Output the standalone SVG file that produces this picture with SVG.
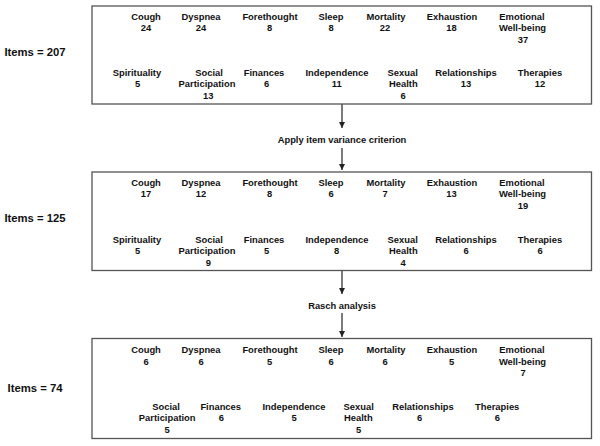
<svg xmlns="http://www.w3.org/2000/svg" width="600" height="446" viewBox="0 0 600 446">
<defs>
<style>
text{font-family:"Liberation Sans",Arial,sans-serif;font-weight:bold;font-size:9.4px;fill:#111;text-anchor:middle}
.big{font-size:11.3px}
.box{fill:#fff;stroke:#555;stroke-width:1.3}
.conn{stroke:#222;stroke-width:1.2;fill:none}
</style>
<marker id="ah" viewBox="0 0 10 10" refX="10" refY="5" markerWidth="6" markerHeight="7" markerUnits="userSpaceOnUse" orient="auto">
<path d="M0,0 L10,5 L0,10 z" fill="#222"/>
</marker>
</defs>
<rect width="600" height="446" fill="#fff"/>

<g id="connectors">
<line class="conn" x1="342" y1="104" x2="342" y2="128" marker-end="url(#ah)"/>
<line class="conn" x1="342" y1="148" x2="342" y2="170" marker-end="url(#ah)"/>
<line class="conn" x1="342" y1="271" x2="342" y2="294" marker-end="url(#ah)"/>
<line class="conn" x1="342" y1="313" x2="342" y2="337" marker-end="url(#ah)"/>
</g>

<g id="step1-label"><text class="big" x="35" y="55.7">Items = 207</text></g>
<g id="step2-label"><text class="big" x="35" y="222.3">Items = 125</text></g>
<g id="step3-label"><text class="big" x="35" y="392.3">Items = 74</text></g>

<g id="apply-variance"><text x="342" y="143.3">Apply item variance criterion</text></g>
<g id="rasch"><text x="342" y="308.5">Rasch analysis</text></g>

<g id="box1">
<rect class="box" x="92" y="6" width="499.5" height="98"/>
<text x="146" y="19.5">Cough</text><text x="146" y="31.2">24</text>
<text x="201" y="19.5">Dyspnea</text><text x="201" y="31.2">24</text>
<text x="270" y="19.5">Forethought</text><text x="269.5" y="31.2">8</text>
<text x="331" y="19.5">Sleep</text><text x="331" y="31.2">8</text>
<text x="386" y="19.5">Mortality</text><text x="385" y="31.2">22</text>
<text x="452" y="19.5">Exhaustion</text><text x="451.5" y="31.2">18</text>
<text x="522" y="19.5">Emotional</text><text x="522.5" y="31.2">Well-being</text><text x="523" y="42.8">37</text>
<text x="137" y="75.5">Spirituality</text><text x="137.5" y="87.2">5</text>
<text x="209" y="75.5">Social</text><text x="207" y="87.2">Participation</text><text x="208.3" y="98.8">13</text>
<text x="264" y="75.5">Finances</text><text x="266.5" y="87.2">6</text>
<text x="337" y="75.5">Independence</text><text x="336.7" y="87.2">11</text>
<text x="402.7" y="75.5">Sexual</text><text x="403.3" y="87.2">Health</text><text x="403" y="98.8">6</text>
<text x="466" y="75.5">Relationships</text><text x="466" y="87.2">13</text>
<text x="540" y="75.5">Therapies</text><text x="540" y="87.2">12</text>
</g>

<g id="box2">
<rect class="box" x="92" y="172" width="499.5" height="98.5"/>
<text x="146" y="185.7">Cough</text><text x="146" y="197.3">17</text>
<text x="201" y="185.7">Dyspnea</text><text x="201" y="197.3">12</text>
<text x="270" y="185.7">Forethought</text><text x="269.5" y="197.3">8</text>
<text x="331" y="185.7">Sleep</text><text x="331" y="197.3">6</text>
<text x="386" y="185.7">Mortality</text><text x="385" y="197.3">7</text>
<text x="452" y="185.7">Exhaustion</text><text x="451.5" y="197.3">13</text>
<text x="522" y="185.7">Emotional</text><text x="522.5" y="197.3">Well-being</text><text x="523" y="209">19</text>
<text x="137" y="242.7">Spirituality</text><text x="137.5" y="254.2">5</text>
<text x="209" y="242.7">Social</text><text x="207" y="254.2">Participation</text><text x="208.3" y="265.8">9</text>
<text x="264" y="242.7">Finances</text><text x="266.5" y="254.2">5</text>
<text x="337" y="242.7">Independence</text><text x="336.7" y="254.2">8</text>
<text x="402.7" y="242.7">Sexual</text><text x="403.3" y="254.2">Health</text><text x="403" y="265.8">4</text>
<text x="466" y="242.7">Relationships</text><text x="466" y="254.2">6</text>
<text x="540" y="242.7">Therapies</text><text x="540" y="254.2">6</text>
</g>

<g id="box3">
<rect class="box" x="92" y="338.5" width="499.5" height="100"/>
<text x="146" y="353.3">Cough</text><text x="146" y="364.6">6</text>
<text x="201" y="353.3">Dyspnea</text><text x="201" y="364.6">6</text>
<text x="270" y="353.3">Forethought</text><text x="269.5" y="364.6">5</text>
<text x="331" y="353.3">Sleep</text><text x="331" y="364.6">6</text>
<text x="386" y="353.3">Mortality</text><text x="385" y="364.6">6</text>
<text x="452" y="353.3">Exhaustion</text><text x="451.5" y="364.6">5</text>
<text x="522" y="353.3">Emotional</text><text x="522.5" y="364.6">Well-being</text><text x="523" y="376.2">7</text>
<text x="166" y="410">Social</text><text x="167.2" y="421.2">Participation</text><text x="167" y="432.8">5</text>
<text x="220.7" y="410">Finances</text><text x="221.3" y="421.2">6</text>
<text x="294" y="410">Independence</text><text x="294" y="421.2">5</text>
<text x="358.7" y="410">Sexual</text><text x="358.3" y="421.2">Health</text><text x="358.7" y="432.8">5</text>
<text x="423" y="410">Relationships</text><text x="419.5" y="421.2">6</text>
<text x="497.2" y="410">Therapies</text><text x="497.3" y="421.2">6</text>
</g>
</svg>
